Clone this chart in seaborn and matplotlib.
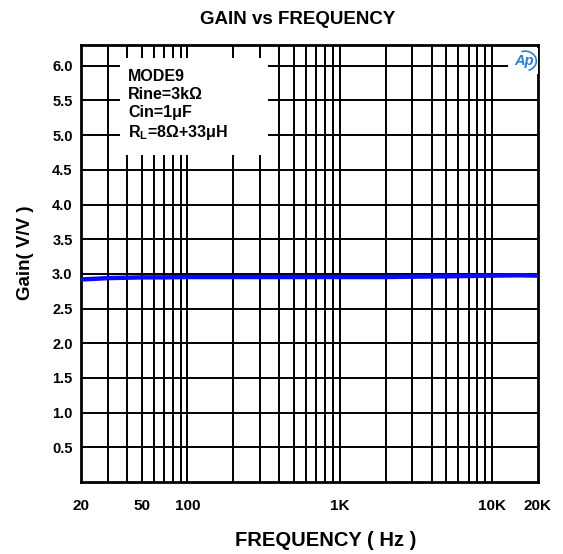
import numpy as np
import pandas as pd
import matplotlib
matplotlib.use('Agg')
import matplotlib.pyplot as plt
import matplotlib.patches as mpatches
import seaborn as sns
from matplotlib.ticker import FixedLocator, NullLocator

freq = [20, 25, 30, 40, 50, 70, 100, 200, 500, 1000, 2000, 3000, 5000, 7000, 10000, 15000, 20000]
gain = [2.92, 2.93, 2.94, 2.945, 2.95, 2.95, 2.955, 2.955, 2.955, 2.955, 2.955, 2.96, 2.965, 2.97, 2.975, 2.98, 2.975]

xtick_vals = [20, 50, 100, 1000, 10000, 20000]
xtick_labels = ['20', '50', '100', '1K', '10K', '20K']
ytick_vals = [0.5, 1.0, 1.5, 2.0, 2.5, 3.0, 3.5, 4.0, 4.5, 5.0, 5.5, 6.0]

note_lines = ['MODE9', 'Rine=3kΩ', 'Cin=1μF', r'R$_\mathbf{L}$=8Ω+33μH']

sns.set_style('white')
plt.rcParams['font.family'] = ['Liberation Sans', 'DejaVu Sans']
plt.rcParams['mathtext.fontset'] = 'custom'
plt.rcParams['mathtext.bf'] = 'Liberation Sans:bold'
plt.rcParams['mathtext.rm'] = 'Liberation Sans:bold'
plt.rcParams['text.color'] = 'black'
plt.rcParams['axes.labelcolor'] = 'black'
plt.rcParams['xtick.color'] = 'black'
plt.rcParams['ytick.color'] = 'black'

df = pd.DataFrame({'Frequency': freq, 'Gain': gain})

W, H = 563, 554
fig = plt.figure(figsize=(W / 100, H / 100), dpi=100)
ax = fig.add_axes([81 / W, 1 - 482 / H, 457 / W, 437 / H])

sns.lineplot(data=df, x='Frequency', y='Gain', color='#0a0aff', linewidth=3.2, ax=ax, zorder=5)

ax.set_xscale('log')
ax.set_xlim(20, 20000)
ax.set_ylim(0, 6.3)

# grid lines at every log minor position
grid_x = []
for dec in [10, 100, 1000, 10000]:
    for m in range(1, 10):
        v = dec * m
        if 20 < v < 20000:
            grid_x.append(v)
for v in grid_x:
    ax.axvline(v, color='black', linewidth=1.4, zorder=1)
for v in ytick_vals:
    ax.axhline(v, color='black', linewidth=1.4, zorder=1)

ax.xaxis.set_major_locator(FixedLocator(xtick_vals))
ax.xaxis.set_minor_locator(NullLocator())
ax.set_xticklabels(xtick_labels, fontsize=11, fontweight='bold')
ax.set_yticks(ytick_vals)
ax.set_yticklabels([f'{v:.1f}' for v in ytick_vals], fontsize=10.5, fontweight='bold')
ax.tick_params(axis='both', length=0)
ax.tick_params(axis='x', pad=12)
ax.tick_params(axis='y', pad=6)

for s in ax.spines.values():
    s.set_color('black')
    s.set_linewidth(2)

ax.set_xlabel('')
ax.set_ylabel('')
fig.text(326 / W, 1 - 540 / H, 'FREQUENCY ( Hz )', fontsize=14.5, fontweight='bold',
         ha='center', va='center')
fig.text(25 / W, 1 - 253 / H, 'Gain( V/V )', fontsize=13.5, fontweight='bold',
         ha='center', va='center', rotation=90)
fig.text(298 / W, 1 - 19 / H, 'GAIN vs FREQUENCY', fontsize=13.5, fontweight='bold',
         ha='center', va='center')

# white note box
x0, x1 = (120 - 81) / 457, (268 - 81) / 457
y0, y1 = (482 - 155) / 437, (482 - 58) / 437
ax.add_patch(mpatches.Rectangle((x0, y0), x1 - x0, y1 - y0, transform=ax.transAxes,
                                facecolor='white', edgecolor='none', zorder=4))
ax.text((128 - 81) / 457, (482 - 69) / 437, '\n'.join(note_lines), transform=ax.transAxes,
        fontsize=11.5, fontweight='bold', va='top', ha='left', linespacing=1.25, zorder=6)

# AP logo
lx, ly = (524 - 81) / 457, (482 - 61) / 437
ax.add_patch(mpatches.Rectangle((lx - 0.035, ly - 0.03), 0.065, 0.06, transform=ax.transAxes,
                                facecolor='white', edgecolor='none', zorder=4))
ax.text(lx, ly, 'Ap', transform=ax.transAxes, fontsize=10.5, color='#2a7fd4',
        style='italic', fontweight='bold', ha='center', va='center', zorder=6)
ax.add_patch(mpatches.Arc((lx + 0.002, ly), 0.05, 0.045, theta1=-70, theta2=110,
                          transform=ax.transAxes, color='#2a7fd4', linewidth=1.2, zorder=6))

fig.savefig('out.png', dpi=100)
